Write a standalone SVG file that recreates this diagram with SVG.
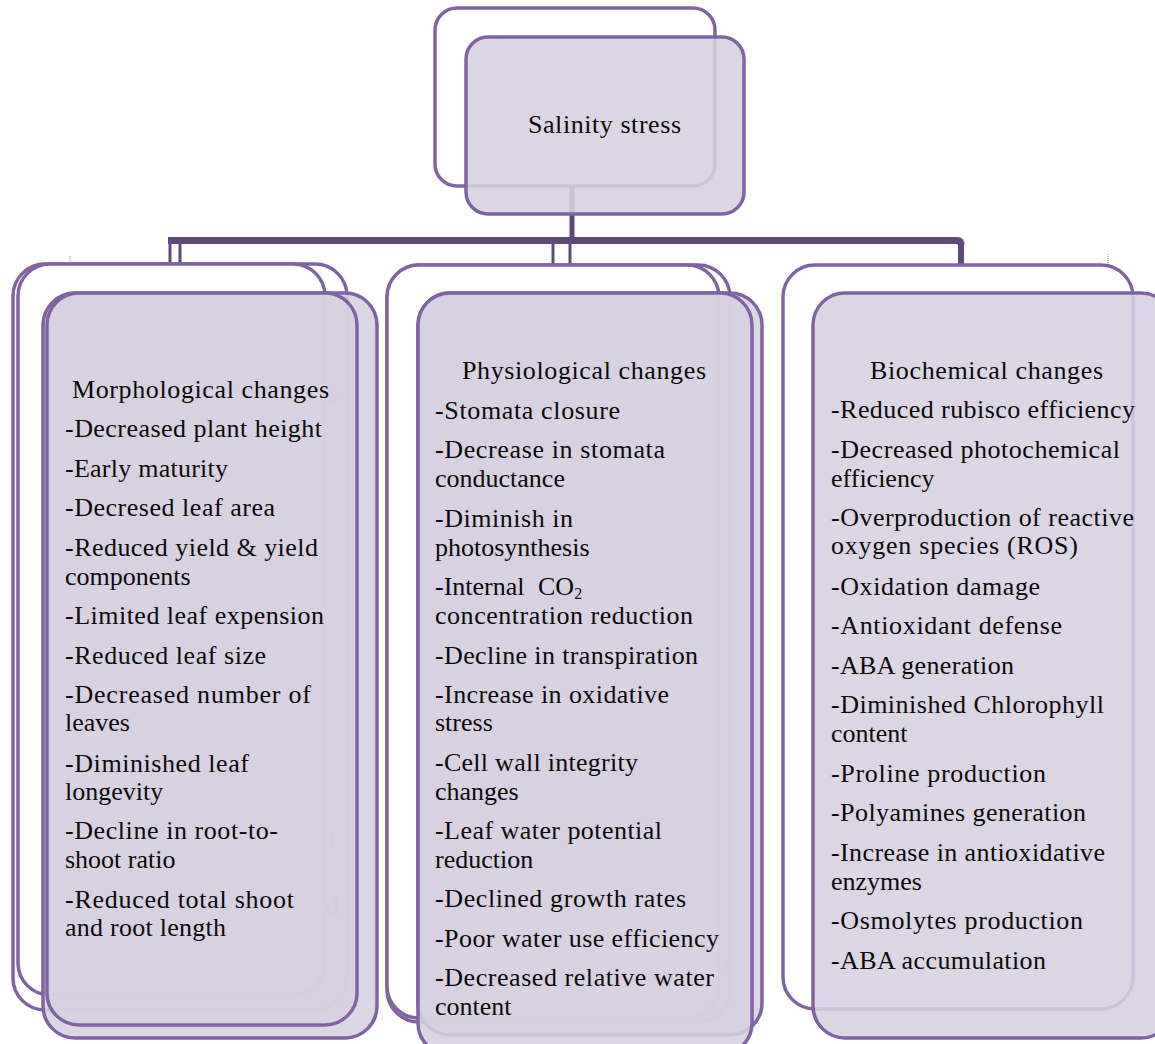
<svg xmlns="http://www.w3.org/2000/svg" width="1155" height="1044" viewBox="0 0 1155 1044">
<style>
.back{fill:#ffffff;stroke:#8064a2;stroke-width:3.5}
.front{fill:#d7d0e0;fill-opacity:0.88;stroke:#8064a2;stroke-width:3.5}
.conn{fill:none;stroke:#604a7b;stroke-linejoin:round}
.t{font-family:"Liberation Serif","Times New Roman",serif;font-size:26px;fill:#0a0a0a}
.ghost{font-family:"Liberation Serif","Times New Roman",serif;font-size:26px;fill:#000000}
.dot{stroke:#888888;stroke-width:1;stroke-dasharray:1 1}
</style>
<rect width="1155" height="1044" fill="#ffffff"/>

<g id="node-salinity-back">
<rect class="back" x="435" y="8" width="280" height="178" rx="22"/>
</g>

<g id="connectors">
<path class="conn" d="M572,187 V240" style="stroke-width:5"/>
<path class="conn" d="M168,240.5 H957 Q961,240.5 961,245" style="stroke-width:7"/>
<path class="conn" d="M961,243 V265" style="stroke-width:6"/>
<path class="conn" d="M170,240 V265" style="stroke-width:3"/>
<path class="conn" d="M180,240 V265" style="stroke-width:3"/>
<path class="conn" d="M553,240 V265" style="stroke-width:3"/>
<path class="conn" d="M570,240 V265" style="stroke-width:3"/>
</g>

<g id="node-salinity">
<rect class="front" x="466" y="37" width="278" height="177" rx="22"/>
<text class="t" x="528" y="133" textLength="153" lengthAdjust="spacing">Salinity stress</text>
</g>

<g id="node-morphological">
<rect class="back" x="13" y="264" width="334" height="746" rx="32"/>
<rect class="back" x="18" y="264" width="307" height="731" rx="32"/>
<text class="ghost" x="328" y="403">s</text>
<text class="ghost" x="328" y="847">t</text>
<text class="ghost" x="326" y="915">d</text>
<line class="dot" x1="70" y1="256" x2="70" y2="263"/>
<rect class="front" x="43" y="293" width="334" height="745" rx="32"/>
<rect class="front" x="47" y="293" width="310" height="732" rx="32"/>
<text class="t" x="72" y="398" textLength="257" lengthAdjust="spacing">Morphological changes</text>
<text class="t" x="65" y="437" textLength="257" lengthAdjust="spacing">-Decreased plant height</text>
<text class="t" x="65" y="477" textLength="163" lengthAdjust="spacing">-Early maturity</text>
<text class="t" x="65" y="516" textLength="210" lengthAdjust="spacing">-Decresed leaf area</text>
<text class="t" x="65" y="556" textLength="253" lengthAdjust="spacing">-Reduced yield &amp; yield</text>
<text class="t" x="65" y="585">components</text>
<text class="t" x="65" y="624" textLength="259" lengthAdjust="spacing">-Limited leaf expension</text>
<text class="t" x="65" y="664" textLength="201" lengthAdjust="spacing">-Reduced leaf size</text>
<text class="t" x="65" y="703" textLength="246" lengthAdjust="spacing">-Decreased number of</text>
<text class="t" x="65" y="731">leaves</text>
<text class="t" x="65" y="772" textLength="184" lengthAdjust="spacing">-Diminished leaf</text>
<text class="t" x="65" y="800">longevity</text>
<text class="t" x="65" y="839" textLength="213" lengthAdjust="spacing">-Decline in root-to-</text>
<text class="t" x="65" y="868">shoot ratio</text>
<text class="t" x="65" y="908" textLength="229" lengthAdjust="spacing">-Reduced total shoot</text>
<text class="t" x="65" y="936" textLength="161" lengthAdjust="spacing">and root length</text>
</g>

<g id="node-physiological">
<rect class="back" x="387" y="265" width="343" height="757" rx="32"/>
<rect class="back" x="387" y="265" width="332" height="753" rx="32"/>
<text class="ghost" x="723" y="972">r</text>
<rect class="front" x="418" y="293" width="344" height="742" rx="32"/>
<rect class="front" x="418" y="293" width="334" height="762" rx="32"/>
<text class="t" x="462" y="379" textLength="244" lengthAdjust="spacing">Physiological changes</text>
<text class="t" x="435" y="419" textLength="185" lengthAdjust="spacing">-Stomata closure</text>
<text class="t" x="435" y="458" textLength="230" lengthAdjust="spacing">-Decrease in stomata</text>
<text class="t" x="435" y="487">conductance</text>
<text class="t" x="435" y="527" textLength="138" lengthAdjust="spacing">-Diminish in</text>
<text class="t" x="435" y="556">photosynthesis</text>
<text class="t" x="435" y="595">-Internal<tspan x="538">CO</tspan><tspan font-size="16" dy="4">2</tspan></text>
<text class="t" x="435" y="624" textLength="258" lengthAdjust="spacing">concentration reduction</text>
<text class="t" x="435" y="664" textLength="263" lengthAdjust="spacing">-Decline in transpiration</text>
<text class="t" x="435" y="703" textLength="234" lengthAdjust="spacing">-Increase in oxidative</text>
<text class="t" x="435" y="731">stress</text>
<text class="t" x="435" y="771" textLength="203" lengthAdjust="spacing">-Cell wall integrity</text>
<text class="t" x="435" y="800">changes</text>
<text class="t" x="435" y="839" textLength="227" lengthAdjust="spacing">-Leaf water potential</text>
<text class="t" x="435" y="868">reduction</text>
<text class="t" x="435" y="907" textLength="251" lengthAdjust="spacing">-Declined growth rates</text>
<text class="t" x="435" y="947" textLength="284" lengthAdjust="spacing">-Poor water use efficiency</text>
<text class="t" x="435" y="986" textLength="279" lengthAdjust="spacing">-Decreased relative water</text>
<text class="t" x="435" y="1015">content</text>
</g>

<g id="node-biochemical">
<rect class="back" x="783" y="265" width="350" height="744" rx="32"/>
<line class="dot" x1="1108" y1="254" x2="1108" y2="264"/>
<rect class="front" x="813" y="293" width="360" height="745" rx="32"/>
<text class="t" x="870" y="379" textLength="233" lengthAdjust="spacing">Biochemical changes</text>
<text class="t" x="831" y="418" textLength="304" lengthAdjust="spacing">-Reduced rubisco efficiency</text>
<text class="t" x="831" y="458" textLength="289" lengthAdjust="spacing">-Decreased photochemical</text>
<text class="t" x="831" y="487">efficiency</text>
<text class="t" x="831" y="526" textLength="303" lengthAdjust="spacing">-Overproduction of reactive</text>
<text class="t" x="831" y="554" textLength="247" lengthAdjust="spacing">oxygen species (ROS)</text>
<text class="t" x="831" y="595" textLength="209" lengthAdjust="spacing">-Oxidation damage</text>
<text class="t" x="831" y="634" textLength="231" lengthAdjust="spacing">-Antioxidant defense</text>
<text class="t" x="831" y="674" textLength="183" lengthAdjust="spacing">-ABA generation</text>
<text class="t" x="831" y="713" textLength="273" lengthAdjust="spacing">-Diminished Chlorophyll</text>
<text class="t" x="831" y="742">content</text>
<text class="t" x="831" y="782" textLength="215" lengthAdjust="spacing">-Proline production</text>
<text class="t" x="831" y="821" textLength="255" lengthAdjust="spacing">-Polyamines generation</text>
<text class="t" x="831" y="861" textLength="274" lengthAdjust="spacing">-Increase in antioxidative</text>
<text class="t" x="831" y="890">enzymes</text>
<text class="t" x="831" y="929" textLength="252" lengthAdjust="spacing">-Osmolytes production</text>
<text class="t" x="831" y="969" textLength="215" lengthAdjust="spacing">-ABA accumulation</text>
</g>
</svg>
